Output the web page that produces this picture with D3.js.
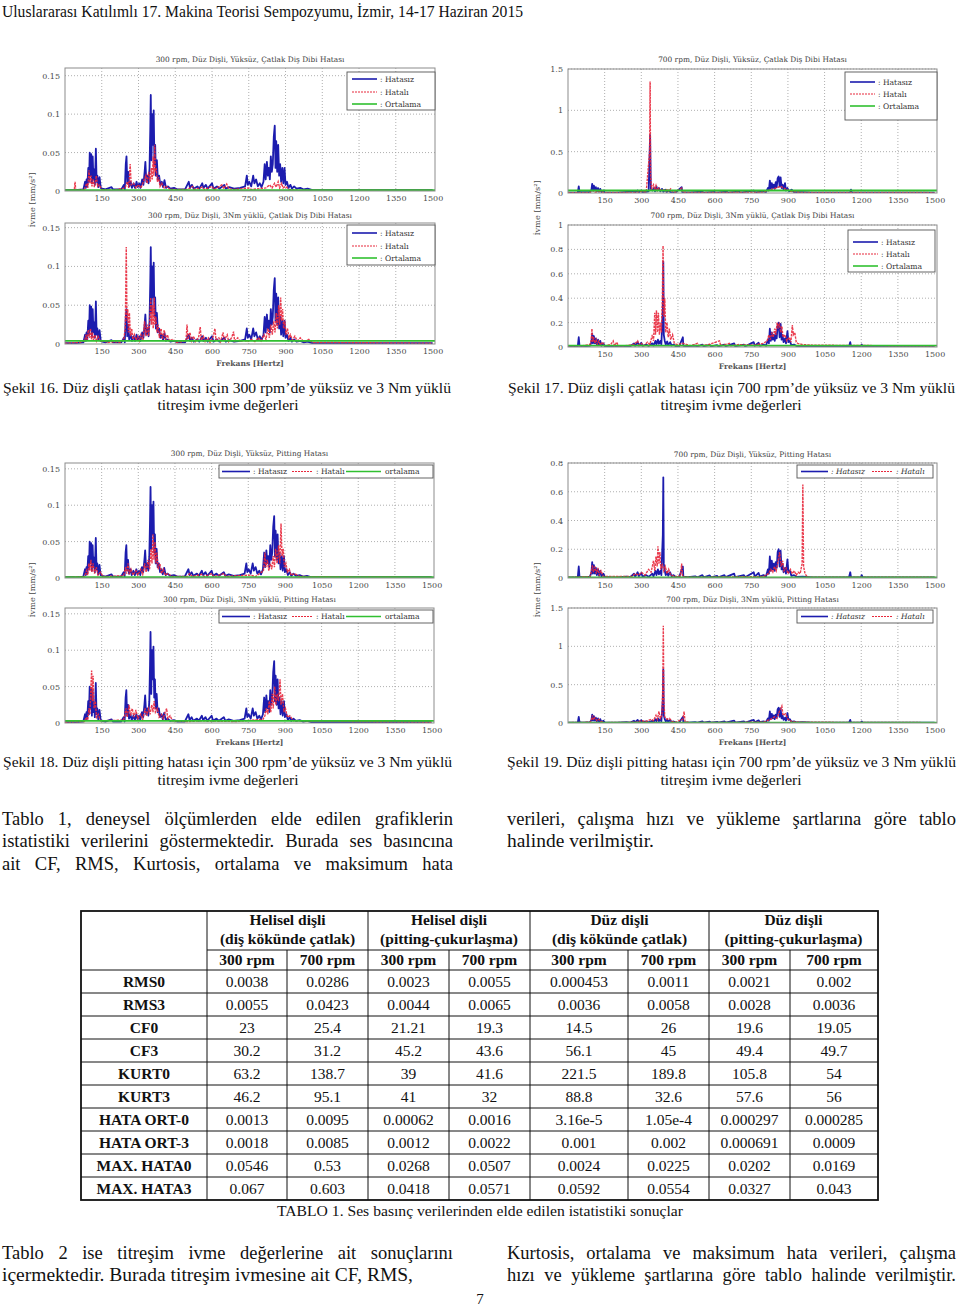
<!DOCTYPE html>
<html><head><meta charset="utf-8">
<script src="https://cdnjs.cloudflare.com/ajax/libs/d3/7.8.5/d3.min.js"></script>
<style>body{margin:0;background:#fff}svg{display:block}</style>
</head><body>
<script>
// ---------------- DATA ----------------
const freqTicks = [150,300,450,600,750,900,1050,1200,1350,1500];

// Hatasız (healthy) spectrum, 300 rpm  [Hz, mm/s^2]
const hatasiz300 = [[0,0.001],[40,0.001],[75,0.002],[82,0.012],[85,0.004],[88,0.015],[91,0.006],[95,0.03],[98,0.012],[101,0.05],[104,0.02],[107,0.048],[110,0.01],[113,0.045],[116,0.015],[119,0.028],[122,0.008],[126,0.055],[129,0.012],[132,0.02],[136,0.005],[141,0.018],[146,0.004],[152,0.003],[165,0.002],[190,0.005],[196,0.002],[230,0.002],[240,0.008],[244,0.002],[248,0.035],[251,0.045],[254,0.01],[258,0.025],[262,0.006],[268,0.012],[273,0.004],[280,0.01],[286,0.004],[292,0.012],[297,0.005],[303,0.01],[308,0.004],[315,0.015],[320,0.008],[325,0.025],[328,0.038],[332,0.012],[337,0.02],[341,0.01],[345,0.03],[348,0.08],[350,0.125],[353,0.04],[356,0.1],[359,0.06],[362,0.105],[365,0.035],[368,0.06],[371,0.02],[375,0.04],[379,0.015],[384,0.02],[389,0.008],[395,0.012],[400,0.005],[406,0.014],[412,0.004],[420,0.006],[430,0.003],[445,0.004],[460,0.002],[490,0.002],[505,0.012],[510,0.004],[518,0.008],[525,0.003],[540,0.006],[548,0.003],[560,0.01],[565,0.004],[575,0.008],[582,0.003],[600,0.01],[606,0.003],[620,0.006],[630,0.003],[650,0.008],[656,0.003],[670,0.005],[690,0.003],[715,0.004],[735,0.006],[742,0.02],[746,0.008],[752,0.012],[760,0.006],[768,0.02],[773,0.01],[780,0.015],[787,0.006],[795,0.01],[802,0.005],[810,0.012],[815,0.035],[819,0.015],[824,0.038],[828,0.02],[832,0.03],[836,0.015],[840,0.045],[844,0.025],[848,0.035],[852,0.07],[856,0.085],[859,0.03],[862,0.065],[866,0.025],[870,0.06],[874,0.02],[878,0.035],[882,0.012],[887,0.03],[891,0.01],[896,0.03],[900,0.008],[906,0.012],[912,0.004],[920,0.008],[926,0.003],[935,0.006],[945,0.003],[960,0.004],[975,0.002],[990,0.003],[1010,0.001],[1500,0.001]];

// Hatalı (faulty) spectra, 300 rpm
const hatali300YuksuzCatlak = [[0,0.001],[38,0.001],[41,0.012],[44,0.001],[80,0.002],[88,0.01],[93,0.004],[98,0.027],[102,0.01],[106,0.02],[110,0.006],[115,0.015],[120,0.005],[128,0.02],[133,0.006],[140,0.008],[150,0.002],[200,0.001],[245,0.004],[255,0.012],[260,0.004],[266,0.035],[270,0.008],[280,0.01],[290,0.004],[300,0.008],[310,0.004],[320,0.012],[330,0.02],[335,0.01],[342,0.025],[348,0.012],[352,0.03],[356,0.015],[360,0.045],[363,0.02],[366,0.06],[369,0.025],[372,0.03],[377,0.012],[382,0.018],[388,0.006],[395,0.01],[405,0.004],[415,0.006],[430,0.002],[500,0.002],[520,0.006],[530,0.002],[560,0.005],[570,0.002],[600,0.006],[610,0.002],[640,0.008],[648,0.003],[660,0.009],[668,0.003],[690,0.002],[750,0.004],[760,0.002],[820,0.004],[835,0.008],[845,0.004],[855,0.01],[862,0.005],[870,0.012],[876,0.004],[884,0.01],[890,0.004],[900,0.006],[915,0.002],[950,0.001],[1500,0.001]];
const hatali300YukluCatlak = [[0,0.001],[60,0.002],[80,0.004],[86,0.012],[90,0.005],[95,0.018],[100,0.008],[104,0.02],[108,0.006],[112,0.015],[116,0.005],[122,0.012],[128,0.004],[135,0.01],[145,0.003],[160,0.004],[175,0.002],[200,0.003],[225,0.002],[240,0.006],[246,0.02],[250,0.125],[253,0.03],[256,0.045],[259,0.015],[263,0.04],[267,0.01],[272,0.02],[277,0.006],[283,0.012],[290,0.005],[297,0.01],[303,0.004],[310,0.012],[318,0.005],[325,0.03],[330,0.01],[336,0.025],[341,0.01],[346,0.03],[350,0.06],[353,0.025],[357,0.05],[360,0.02],[364,0.06],[367,0.025],[371,0.035],[375,0.015],[380,0.025],[385,0.008],[392,0.02],[398,0.006],[405,0.018],[411,0.006],[418,0.012],[425,0.004],[440,0.006],[455,0.002],[480,0.003],[494,0.004],[498,0.025],[502,0.006],[510,0.015],[516,0.004],[525,0.01],[532,0.003],[545,0.008],[552,0.022],[556,0.005],[565,0.01],[572,0.003],[585,0.008],[592,0.002],[605,0.01],[612,0.02],[616,0.005],[628,0.008],[635,0.003],[645,0.015],[650,0.005],[662,0.012],[668,0.003],[680,0.008],[688,0.016],[692,0.004],[705,0.008],[715,0.003],[730,0.005],[745,0.003],[760,0.006],[775,0.003],[790,0.008],[800,0.004],[812,0.012],[820,0.006],[828,0.02],[834,0.008],[840,0.025],[846,0.012],[852,0.03],[857,0.015],[862,0.04],[867,0.02],[872,0.05],[876,0.025],[880,0.06],[884,0.03],[888,0.045],[892,0.02],[897,0.03],[902,0.012],[908,0.02],[914,0.008],[920,0.012],[928,0.005],[938,0.01],[948,0.004],[960,0.008],[975,0.003],[995,0.006],[1010,0.002],[1040,0.002],[1500,0.001]];
const hatali300YuksuzPitting = [[0,0.001],[80,0.002],[88,0.01],[93,0.004],[98,0.02],[102,0.01],[106,0.025],[110,0.008],[115,0.02],[121,0.006],[128,0.015],[135,0.004],[145,0.008],[155,0.002],[240,0.003],[248,0.015],[252,0.006],[258,0.02],[263,0.005],[270,0.012],[278,0.004],[290,0.01],[298,0.004],[310,0.012],[318,0.005],[326,0.02],[332,0.008],[340,0.025],[346,0.012],[352,0.04],[356,0.02],[360,0.06],[364,0.025],[368,0.05],[372,0.02],[376,0.035],[381,0.012],[388,0.02],[395,0.006],[402,0.012],[410,0.004],[420,0.006],[440,0.002],[500,0.002],[510,0.006],[520,0.002],[560,0.005],[570,0.002],[600,0.006],[610,0.002],[650,0.006],[660,0.002],[700,0.003],[760,0.004],[780,0.002],[812,0.01],[818,0.035],[822,0.015],[828,0.025],[834,0.01],[840,0.02],[846,0.012],[852,0.03],[857,0.015],[862,0.04],[868,0.02],[874,0.045],[879,0.02],[884,0.075],[888,0.03],[893,0.04],[898,0.015],[904,0.02],[910,0.008],[918,0.012],[925,0.004],[940,0.006],[960,0.002],[1500,0.001]];
const hatali300YukluPitting = [[0,0.001],[80,0.002],[88,0.008],[93,0.004],[98,0.02],[102,0.012],[106,0.05],[109,0.072],[112,0.03],[115,0.065],[119,0.02],[124,0.03],[129,0.008],[136,0.012],[145,0.003],[240,0.004],[250,0.02],[255,0.008],[262,0.025],[268,0.01],[275,0.02],[282,0.008],[290,0.018],[298,0.006],[310,0.012],[318,0.005],[328,0.02],[334,0.01],[342,0.02],[348,0.012],[355,0.025],[360,0.015],[365,0.03],[370,0.015],[378,0.02],[385,0.008],[395,0.012],[402,0.006],[410,0.015],[416,0.02],[420,0.006],[430,0.01],[440,0.003],[500,0.002],[560,0.003],[700,0.002],[810,0.005],[818,0.01],[824,0.02],[830,0.012],[836,0.03],[842,0.015],[848,0.04],[852,0.02],[858,0.05],[863,0.025],[868,0.04],[874,0.03],[880,0.06],[884,0.025],[890,0.04],[896,0.015],[902,0.02],[910,0.008],[920,0.01],[935,0.003],[1500,0.001]];

// Hatasız spectra, 700 rpm
const hatasiz700Yuksuz = [[0,0.005],[40,0.005],[44,0.08],[47,0.01],[90,0.01],[96,0.04],[99,0.11],[102,0.03],[106,0.09],[110,0.03],[114,0.07],[118,0.02],[123,0.06],[127,0.015],[132,0.05],[137,0.01],[145,0.03],[150,0.008],[200,0.005],[270,0.02],[275,0.008],[285,0.03],[290,0.01],[300,0.03],[305,0.01],[320,0.015],[330,0.02],[336,0.7],[339,0.05],[345,0.03],[352,0.06],[356,0.02],[362,0.08],[366,0.03],[372,0.06],[378,0.02],[385,0.05],[390,0.015],[398,0.04],[404,0.012],[412,0.03],[420,0.008],[440,0.006],[465,0.07],[468,0.008],[500,0.006],[550,0.015],[555,0.005],[600,0.012],[605,0.005],[650,0.015],[655,0.005],[700,0.02],[705,0.005],[760,0.03],[765,0.008],[800,0.02],[810,0.01],[818,0.06],[822,0.03],[826,0.15],[830,0.05],[834,0.12],[838,0.06],[842,0.1],[846,0.05],[850,0.13],[854,0.07],[858,0.18],[862,0.2],[866,0.08],[870,0.19],[874,0.06],[878,0.1],[882,0.04],[888,0.12],[892,0.03],[898,0.06],[905,0.02],[915,0.04],[925,0.01],[960,0.01],[1000,0.005],[1155,0.005],[1158,0.04],[1161,0.005],[1500,0.005]];
const hatasiz700 = [[0,0.005],[40,0.005],[44,0.08],[47,0.01],[60,0.005],[90,0.01],[96,0.04],[99,0.11],[102,0.03],[106,0.09],[110,0.03],[114,0.07],[118,0.02],[123,0.06],[127,0.015],[132,0.05],[137,0.01],[145,0.03],[150,0.008],[170,0.006],[200,0.005],[240,0.01],[255,0.006],[270,0.03],[275,0.01],[285,0.04],[290,0.012],[300,0.035],[305,0.01],[320,0.02],[330,0.008],[345,0.03],[350,0.012],[358,0.05],[362,0.02],[368,0.06],[372,0.025],[378,0.05],[382,0.02],[388,0.3],[390,0.7],[392,0.1],[396,0.05],[400,0.02],[406,0.045],[410,0.015],[418,0.04],[424,0.012],[432,0.02],[440,0.008],[455,0.006],[470,0.08],[472,0.01],[490,0.006],[520,0.012],[530,0.005],[550,0.02],[555,0.005],[580,0.018],[585,0.005],[610,0.015],[615,0.005],[640,0.02],[645,0.006],[680,0.03],[684,0.006],[720,0.02],[725,0.005],[760,0.04],[764,0.01],[780,0.035],[785,0.01],[800,0.02],[810,0.01],[818,0.06],[822,0.03],[826,0.15],[830,0.05],[834,0.12],[838,0.06],[842,0.1],[846,0.05],[850,0.11],[854,0.07],[858,0.18],[862,0.2],[866,0.08],[870,0.19],[874,0.06],[878,0.1],[882,0.04],[888,0.07],[892,0.03],[898,0.13],[902,0.04],[908,0.05],[914,0.015],[925,0.02],[935,0.008],[960,0.01],[1000,0.005],[1150,0.005],[1155,0.04],[1158,0.005],[1198,0.005],[1202,0.02],[1206,0.005],[1500,0.005]];

// Hatalı spectra, 700 rpm
const hatali700YuksuzCatlak = [[0,0.005],[90,0.005],[100,0.03],[110,0.01],[130,0.02],[150,0.005],[280,0.008],[300,0.02],[320,0.01],[334,0.5],[336,1.35],[338,0.2],[342,0.05],[350,0.1],[355,0.04],[360,0.09],[365,0.03],[372,0.06],[380,0.03],[390,0.04],[400,0.02],[405,0.05],[412,0.02],[420,0.05],[428,0.015],[440,0.01],[465,0.06],[470,0.01],[500,0.006],[800,0.01],[830,0.04],[850,0.06],[870,0.08],[890,0.05],[910,0.02],[950,0.008],[1500,0.005]];
const hatali700YukluCatlak = [[0,0.01],[60,0.01],[90,0.02],[95,0.06],[98,0.15],[101,0.04],[105,0.08],[110,0.03],[115,0.06],[120,0.02],[126,0.05],[132,0.015],[140,0.04],[150,0.01],[175,0.02],[185,0.05],[190,0.01],[200,0.04],[205,0.01],[230,0.01],[270,0.02],[285,0.05],[290,0.015],[300,0.03],[310,0.01],[325,0.04],[335,0.02],[345,0.1],[350,0.05],[355,0.28],[358,0.1],[362,0.3],[366,0.12],[370,0.28],[374,0.1],[378,0.2],[382,0.12],[386,0.4],[389,0.83],[392,0.25],[396,0.4],[400,0.12],[405,0.2],[410,0.08],[415,0.15],[420,0.06],[428,0.1],[435,0.03],[445,0.02],[470,0.03],[500,0.01],[530,0.03],[535,0.01],[575,0.02],[620,0.05],[625,0.01],[660,0.03],[665,0.01],[700,0.02],[760,0.015],[800,0.03],[815,0.05],[822,0.1],[828,0.06],[834,0.12],[840,0.08],[846,0.15],[850,0.1],[856,0.2],[860,0.15],[865,0.2],[870,0.12],[875,0.17],[880,0.08],[888,0.1],[895,0.05],[905,0.08],[912,0.04],[918,0.18],[922,0.1],[928,0.12],[934,0.04],[940,0.03],[960,0.02],[1000,0.015],[1500,0.008]];
const hatali700YuksuzPitting = [[0,0.005],[90,0.01],[96,0.05],[100,0.09],[104,0.04],[110,0.08],[116,0.03],[122,0.07],[128,0.02],[135,0.05],[145,0.01],[260,0.01],[275,0.03],[290,0.02],[300,0.04],[315,0.02],[330,0.06],[340,0.04],[350,0.12],[355,0.05],[360,0.15],[365,0.08],[368,0.22],[372,0.1],[376,0.18],[380,0.06],[386,0.1],[392,0.05],[398,0.08],[405,0.03],[412,0.06],[420,0.02],[440,0.01],[460,0.015],[465,0.1],[469,0.01],[500,0.005],[800,0.01],[820,0.03],[830,0.06],[838,0.04],[845,0.08],[852,0.05],[860,0.12],[866,0.18],[872,0.08],[878,0.12],[884,0.05],[892,0.07],[900,0.03],[910,0.06],[918,0.03],[926,0.05],[934,0.02],[942,0.04],[950,0.03],[958,0.1],[961,0.65],[964,0.08],[970,0.03],[980,0.005],[1500,0.005]];
const hatali700YukluPitting = [[0,0.005],[90,0.01],[96,0.04],[100,0.1],[104,0.04],[110,0.07],[118,0.03],[125,0.05],[135,0.02],[150,0.005],[280,0.01],[300,0.03],[320,0.02],[340,0.05],[350,0.03],[360,0.1],[366,0.05],[372,0.15],[378,0.06],[384,0.1],[388,0.5],[390,1.27],[392,0.3],[396,0.08],[405,0.05],[415,0.06],[425,0.02],[440,0.01],[470,0.05],[475,0.15],[479,0.02],[500,0.005],[800,0.01],[830,0.05],[845,0.08],[855,0.06],[865,0.15],[875,0.22],[880,0.1],[890,0.12],[900,0.05],[915,0.02],[950,0.01],[1500,0.005]];

// Ortalama (mean) levels
const ortalama = {s16a:0.0012, s16b:0.004, s17a:0.03, s17b:0.012, s18a:0.001, s18b:0.003, s19a:0.004, s19b:0.006};

// Table
const tableGroups = [["Helisel dişli","(diş kökünde çatlak)"],["Helisel dişli","(pitting-çukurlaşma)"],["Düz dişli","(diş kökünde çatlak)"],["Düz dişli","(pitting-çukurlaşma)"]];
const tableSub = ["300 rpm","700 rpm"];
const rowLabels = ["RMS0","RMS3","CF0","CF3","KURT0","KURT3","HATA ORT-0","HATA ORT-3","MAX. HATA0","MAX. HATA3"];
const rowValues = [
 ["0.0038","0.0286","0.0023","0.0055","0.000453","0.0011","0.0021","0.002"],
 ["0.0055","0.0423","0.0044","0.0065","0.0036","0.0058","0.0028","0.0036"],
 ["23","25.4","21.21","19.3","14.5","26","19.6","19.05"],
 ["30.2","31.2","45.2","43.6","56.1","45","49.4","49.7"],
 ["63.2","138.7","39","41.6","221.5","189.8","105.8","54"],
 ["46.2","95.1","41","32","88.8","32.6","57.6","56"],
 ["0.0013","0.0095","0.00062","0.0016","3.16e-5","1.05e-4","0.000297","0.000285"],
 ["0.0018","0.0085","0.0012","0.0022","0.001","0.002","0.000691","0.0009"],
 ["0.0546","0.53","0.0268","0.0507","0.0024","0.0225","0.0202","0.0169"],
 ["0.067","0.603","0.0418","0.0571","0.0592","0.0554","0.0327","0.043"]
];

// ---------------- DRAW ----------------
const SERIF = "'Liberation Serif','Times New Roman',Times,serif";
const PSERIF = "'DejaVu Serif','Liberation Serif',serif";
const svg = d3.select("body").append("svg").attr("width",960).attr("height",1307);
svg.append("rect").attr("width",960).attr("height",1307).attr("fill","#fff");

function fitText(x,y,str,size,width,opts={}){
  const t = svg.append("text").attr("x",x).attr("y",y).attr("font-family",SERIF)
    .attr("font-size",size).attr("fill",opts.fill||"#111").text(str);
  if(opts.weight) t.attr("font-weight",opts.weight);
  if(opts.anchor) t.attr("text-anchor",opts.anchor);
  if(width) t.attr("textLength",width).attr("lengthAdjust","spacingAndGlyphs");
  return t;
}
function justify(x,y,str,size,width){
  const words = str.split(" ");
  const g = svg.append("g");
  const nodes = words.map(w=>g.append("text").attr("font-family",SERIF).attr("font-size",size).attr("fill","#111").text(w));
  const ws = nodes.map(n=>n.node().getComputedTextLength());
  const sum = d3.sum(ws);
  const minGap = size*0.22;
  let sx = 1;
  if(sum + minGap*(words.length-1) > width) sx = (width - minGap*(words.length-1))/sum;
  const gap = (width - sum*sx)/(words.length-1);
  let cx = x;
  nodes.forEach((n,i)=>{ n.attr("transform",`translate(${cx},${y}) scale(${sx},1)`); cx += ws[i]*sx + gap; });
}

const BLUE="#1c1cae", RED="#e8283c", GREEN="#30c030";
let clipId=0;
function drawPlot(p){
  const g = svg.append("g");
  const x = d3.scaleLinear().domain([0,1510]).range([p.left,p.right]);
  const y = d3.scaleLinear().domain([0,p.ymax]).range([p.bottom,p.top]);
  g.append("rect").attr("x",p.left).attr("y",p.top).attr("width",p.right-p.left).attr("height",p.bottom-p.top).attr("fill","#fff");
  g.selectAll(".gx").data(freqTicks.filter(d=>d<1500)).join("line")
    .attr("x1",d=>x(d)).attr("x2",d=>x(d)).attr("y1",p.top).attr("y2",p.bottom)
    .attr("stroke","#9a9a9a").attr("stroke-width",0.8).attr("stroke-dasharray","1,2");
  g.selectAll(".gy").data(p.yticks.filter(d=>d>0)).join("line")
    .attr("x1",p.left).attr("x2",p.right).attr("y1",d=>y(d)).attr("y2",d=>y(d))
    .attr("stroke","#9a9a9a").attr("stroke-width",0.8).attr("stroke-dasharray","1,2");
  const cid = "clip"+(clipId++);
  g.append("clipPath").attr("id",cid).append("rect").attr("x",p.left).attr("y",p.top).attr("width",p.right-p.left).attr("height",p.bottom-p.top);
  const line = d3.line().x(d=>x(d[0])).y(d=>y(d[1]));
  const pg = g.append("g").attr("clip-path",`url(#${cid})`);
  pg.append("path").datum(p.blue).attr("d",line).attr("fill","none").attr("stroke",BLUE).attr("stroke-width",1.8).attr("stroke-linejoin","round");
  pg.append("path").datum(p.red).attr("d",line).attr("fill","none").attr("stroke",RED).attr("stroke-width",1.4).attr("stroke-dasharray","2.5,1").attr("opacity",0.9);
  pg.append("path").datum([[0,p.mean],[1510,p.mean]]).attr("d",line).attr("fill","none").attr("stroke",GREEN).attr("stroke-width",1.8);
  g.append("rect").attr("x",p.left).attr("y",p.top).attr("width",p.right-p.left).attr("height",p.bottom-p.top)
    .attr("fill","none").attr("stroke","#8c8c8c").attr("stroke-width",1);
  const ax = g.append("g").attr("transform",`translate(0,${p.bottom})`)
    .call(d3.axisBottom(x).tickValues(freqTicks).tickFormat(d3.format("d")).tickSize(0).tickPadding(4));
  const ay = g.append("g").attr("transform",`translate(${p.left},0)`)
    .call(d3.axisLeft(y).tickValues(p.yticks).tickFormat(d3.format("~g")).tickSize(0).tickPadding(5));
  [ax,ay].forEach(a=>{ a.select(".domain").remove();
    a.selectAll("text").attr("font-family",PSERIF).attr("font-size",8).attr("fill","#4a4a4a"); });
  g.append("text").attr("x",(p.left+p.right)/2).attr("y",p.titleY).attr("text-anchor","middle")
    .attr("font-family",PSERIF).attr("font-size",7.4).attr("fill","#3a3a3a").text(p.title);
  if(p.xlabel){
    g.append("text").attr("x",(p.left+p.right)/2).attr("y",p.bottom+22).attr("text-anchor","middle")
      .attr("font-family",PSERIF).attr("font-size",7.6).attr("font-weight","bold").attr("fill","#555").text("Frekans [Hertz]");
  }
  const L = p.legend;
  const lg = g.append("g");
  lg.append("rect").attr("x",L.x).attr("y",L.y).attr("width",L.w).attr("height",L.h).attr("fill","#fff").attr("stroke","#555").attr("stroke-width",0.9);
  L.items.forEach(it=>{
    const st = it.k==="b"?{c:BLUE,w:1.6,d:null}:it.k==="r"?{c:RED,w:1.1,d:"2,1"}:{c:GREEN,w:1.6,d:null};
    lg.append("line").attr("x1",it.x1).attr("x2",it.x2).attr("y1",it.y).attr("y2",it.y).attr("stroke",st.c).attr("stroke-width",st.w).attr("stroke-dasharray",st.d);
    lg.append("text").attr("x",it.tx).attr("y",it.y+2.6).attr("font-family",PSERIF).attr("font-size",7.6)
      .attr("font-style",L.italic?"italic":null).attr("fill","#333").text(it.t);
  });
}
function vLegend(x,y,w,h,rows){
  return {x,y,w,h,items:[
    {k:"b",x1:x+5,x2:x+30,y:rows[0],tx:x+33,t:": Hatasız"},
    {k:"r",x1:x+5,x2:x+30,y:rows[1],tx:x+33,t:": Hatalı"},
    {k:"g",x1:x+5,x2:x+30,y:rows[2],tx:x+33,t:": Ortalama"}]};
}
function hLegend3(y){
  return {x:219,y:y,w:214,h:13,items:[
    {k:"b",x1:222,x2:250,y:y+6.5,tx:253,t:": Hatasız"},
    {k:"r",x1:292,x2:313,y:y+6.5,tx:316,t:": Hatalı"},
    {k:"g",x1:346,x2:381,y:y+6.5,tx:385,t:"ortalama"}]};
}
function hLegend2(y){
  return {x:797,y:y,w:136,h:13,italic:true,items:[
    {k:"b",x1:801,x2:828,y:y+6.5,tx:831,t:": Hatasız"},
    {k:"r",x1:872,x2:893,y:y+6.5,tx:896,t:": Hatalı"}]};
}

const y300=[0,0.05,0.1,0.15];
const plots = [
 {left:65,right:435,top:68,bottom:191,ymax:0.16,yticks:y300,titleY:62,title:"300 rpm, Düz Dişli, Yüksüz, Çatlak Diş Dibi Hatası",blue:hatasiz300,red:hatali300YuksuzCatlak,mean:ortalama.s16a,legend:vLegend(347,72,88,38,[79,92,104])},
 {left:65,right:435,top:223,bottom:344,ymax:0.156,yticks:y300,titleY:218,title:"300 rpm, Düz Dişli, 3Nm yüklü, Çatlak Diş Dibi Hatası",blue:hatasiz300,red:hatali300YukluCatlak,mean:ortalama.s16b,legend:vLegend(347,225,88,40,[233,246,258]),xlabel:true},
 {left:568,right:937,top:69,bottom:193,ymax:1.5,yticks:[0,0.5,1,1.5],titleY:62,title:"700 rpm, Düz Dişli, Yüksüz, Çatlak Diş Dibi Hatası",blue:hatasiz700Yuksuz,red:hatali700YuksuzCatlak,mean:ortalama.s17a,legend:vLegend(845,72,92,48,[82,94,106])},
 {left:568,right:937,top:225,bottom:347,ymax:1,yticks:[0,0.2,0.4,0.6,0.8,1],titleY:218,title:"700 rpm, Düz Dişli, 3Nm yüklü, Çatlak Diş Dibi Hatası",blue:hatasiz700,red:hatali700YukluCatlak,mean:ortalama.s17b,legend:vLegend(848,230,87,42,[242,254,266]),xlabel:true},
 {left:65,right:434,top:463,bottom:578,ymax:0.158,yticks:y300,titleY:456,title:"300 rpm, Düz Dişli, Yüksüz, Pitting Hatası",blue:hatasiz300,red:hatali300YuksuzPitting,mean:ortalama.s18a,legend:hLegend3(465)},
 {left:65,right:434,top:608,bottom:723,ymax:0.158,yticks:y300,titleY:602,title:"300 rpm, Düz Dişli, 3Nm yüklü, Pitting Hatası",blue:hatasiz300,red:hatali300YukluPitting,mean:ortalama.s18b,legend:hLegend3(610),xlabel:true},
 {left:568,right:937,top:463,bottom:578,ymax:0.8,yticks:[0,0.2,0.4,0.6,0.8],titleY:457,title:"700 rpm, Düz Dişli, Yüksüz, Pitting Hatası",blue:hatasiz700,red:hatali700YuksuzPitting,mean:ortalama.s19a,legend:hLegend2(465)},
 {left:568,right:937,top:608,bottom:723,ymax:1.5,yticks:[0,0.5,1,1.5],titleY:602,title:"700 rpm, Düz Dişli, 3Nm yüklü, Pitting Hatası",blue:hatasiz700,red:hatali700YukluPitting,mean:ortalama.s19b,legend:hLegend2(610),xlabel:true}
];
plots.forEach(drawPlot);

[[35,200],[540,208],[35,590],[540,590]].forEach(([xx,yy])=>{
  svg.append("text").attr("transform",`translate(${xx},${yy}) rotate(-90)`).attr("text-anchor","middle")
   .attr("font-family",PSERIF).attr("font-size",8.2).attr("fill","#444").text("İvme [mm/s²]");
});

fitText(2,17,"Uluslararası Katılımlı 17. Makina Teorisi Sempozyumu, İzmir, 14-17 Haziran 2015",16,521);
fitText(3,393,"Şekil 16. Düz dişli çatlak hatası için 300 rpm’de yüksüz ve 3 Nm yüklü",15.5,448);
fitText(228,410,"titreşim ivme değerleri",15.5,141,{anchor:"middle"});
fitText(508,393,"Şekil 17. Düz dişli çatlak hatası için 700 rpm’de yüksüz ve 3 Nm yüklü",15.5,447);
fitText(731,410,"titreşim ivme değerleri",15.5,141,{anchor:"middle"});
fitText(3,767,"Şekil 18. Düz dişli pitting hatası için 300 rpm’de yüksüz ve 3 Nm yüklü",15.5,449);
fitText(228,785,"titreşim ivme değerleri",15.5,141,{anchor:"middle"});
fitText(507,767,"Şekil 19. Düz dişli pitting hatası için 700 rpm’de yüksüz ve 3 Nm yüklü",15.5,449);
fitText(731,785,"titreşim ivme değerleri",15.5,141,{anchor:"middle"});

justify(2,825,"Tablo 1, deneysel ölçümlerden elde edilen grafiklerin",18.5,451);
justify(2,847,"istatistiki verilerini göstermektedir. Burada ses basıncına",18.5,451);
justify(2,870,"ait CF, RMS, Kurtosis, ortalama ve maksimum hata",18.5,451);
justify(507,825,"verileri, çalışma hızı ve yükleme şartlarına göre tablo",18.5,449);
fitText(507,847,"halinde verilmiştir.",18.5,147);

justify(2,1259,"Tablo 2 ise titreşim ivme değerlerine ait sonuçlarını",18.5,451);
fitText(2,1281,"içermektedir. Burada titreşim ivmesine ait CF, RMS,",18.5,411);
justify(507,1259,"Kurtosis, ortalama ve maksimum hata verileri, çalışma",18.5,449);
justify(507,1281,"hızı ve yükleme şartlarına göre tablo halinde verilmiştir.",18.5,449);
fitText(480,1304,"7",15,null,{anchor:"middle"});

const colX = [81,207,287,368,449,530,628,709,790,878];
const tTop=911, h1=950, h2=970, rowH=23;
const tg = svg.append("g");
const rowY = rowLabels.map((d,i)=>h2+i*rowH);
const tBottom = h2+rowLabels.length*rowH;
tg.append("line").attr("x1",colX[1]).attr("x2",colX[9]).attr("y1",h1).attr("y2",h1).attr("stroke","#111").attr("stroke-width",1);
[h2,...rowY.slice(1)].forEach(yy=>tg.append("line").attr("x1",colX[0]).attr("x2",colX[9]).attr("y1",yy).attr("y2",yy).attr("stroke","#111").attr("stroke-width",1));
colX.slice(1,9).forEach((xx,i)=>{
  const isGroup = (i%2===0);
  tg.append("line").attr("x1",xx).attr("x2",xx).attr("y1",isGroup?tTop:h1).attr("y2",tBottom).attr("stroke","#111").attr("stroke-width",1);
});
tg.append("rect").attr("x",colX[0]).attr("y",tTop).attr("width",colX[9]-colX[0]).attr("height",tBottom-tTop).attr("fill","none").attr("stroke","#111").attr("stroke-width",1.8);
function cellText(x,y,str,bold){
  tg.append("text").attr("x",x).attr("y",y).attr("text-anchor","middle").attr("font-family",SERIF)
    .attr("font-size",15.5).attr("font-weight",bold?"bold":null).attr("fill","#111").text(str);
}
tableGroups.forEach((gr,i)=>{
  const cx=(colX[1+2*i]+colX[3+2*i])/2;
  cellText(cx,925,gr[0],true); cellText(cx,944,gr[1],true);
  tableSub.forEach((s,j)=>cellText((colX[1+2*i+j]+colX[2+2*i+j])/2,965,s,true));
});
rowLabels.forEach((lab,i)=>{
  const cy=rowY[i]+17;
  cellText((colX[0]+colX[1])/2,cy,lab,true);
  rowValues[i].forEach((v,j)=>cellText((colX[1+j]+colX[2+j])/2,cy,v,false));
});
fitText(480,1216,"TABLO 1. Ses basınç verilerinden elde edilen istatistiki sonuçlar",15,406,{anchor:"middle"});
</script>
</body></html>
